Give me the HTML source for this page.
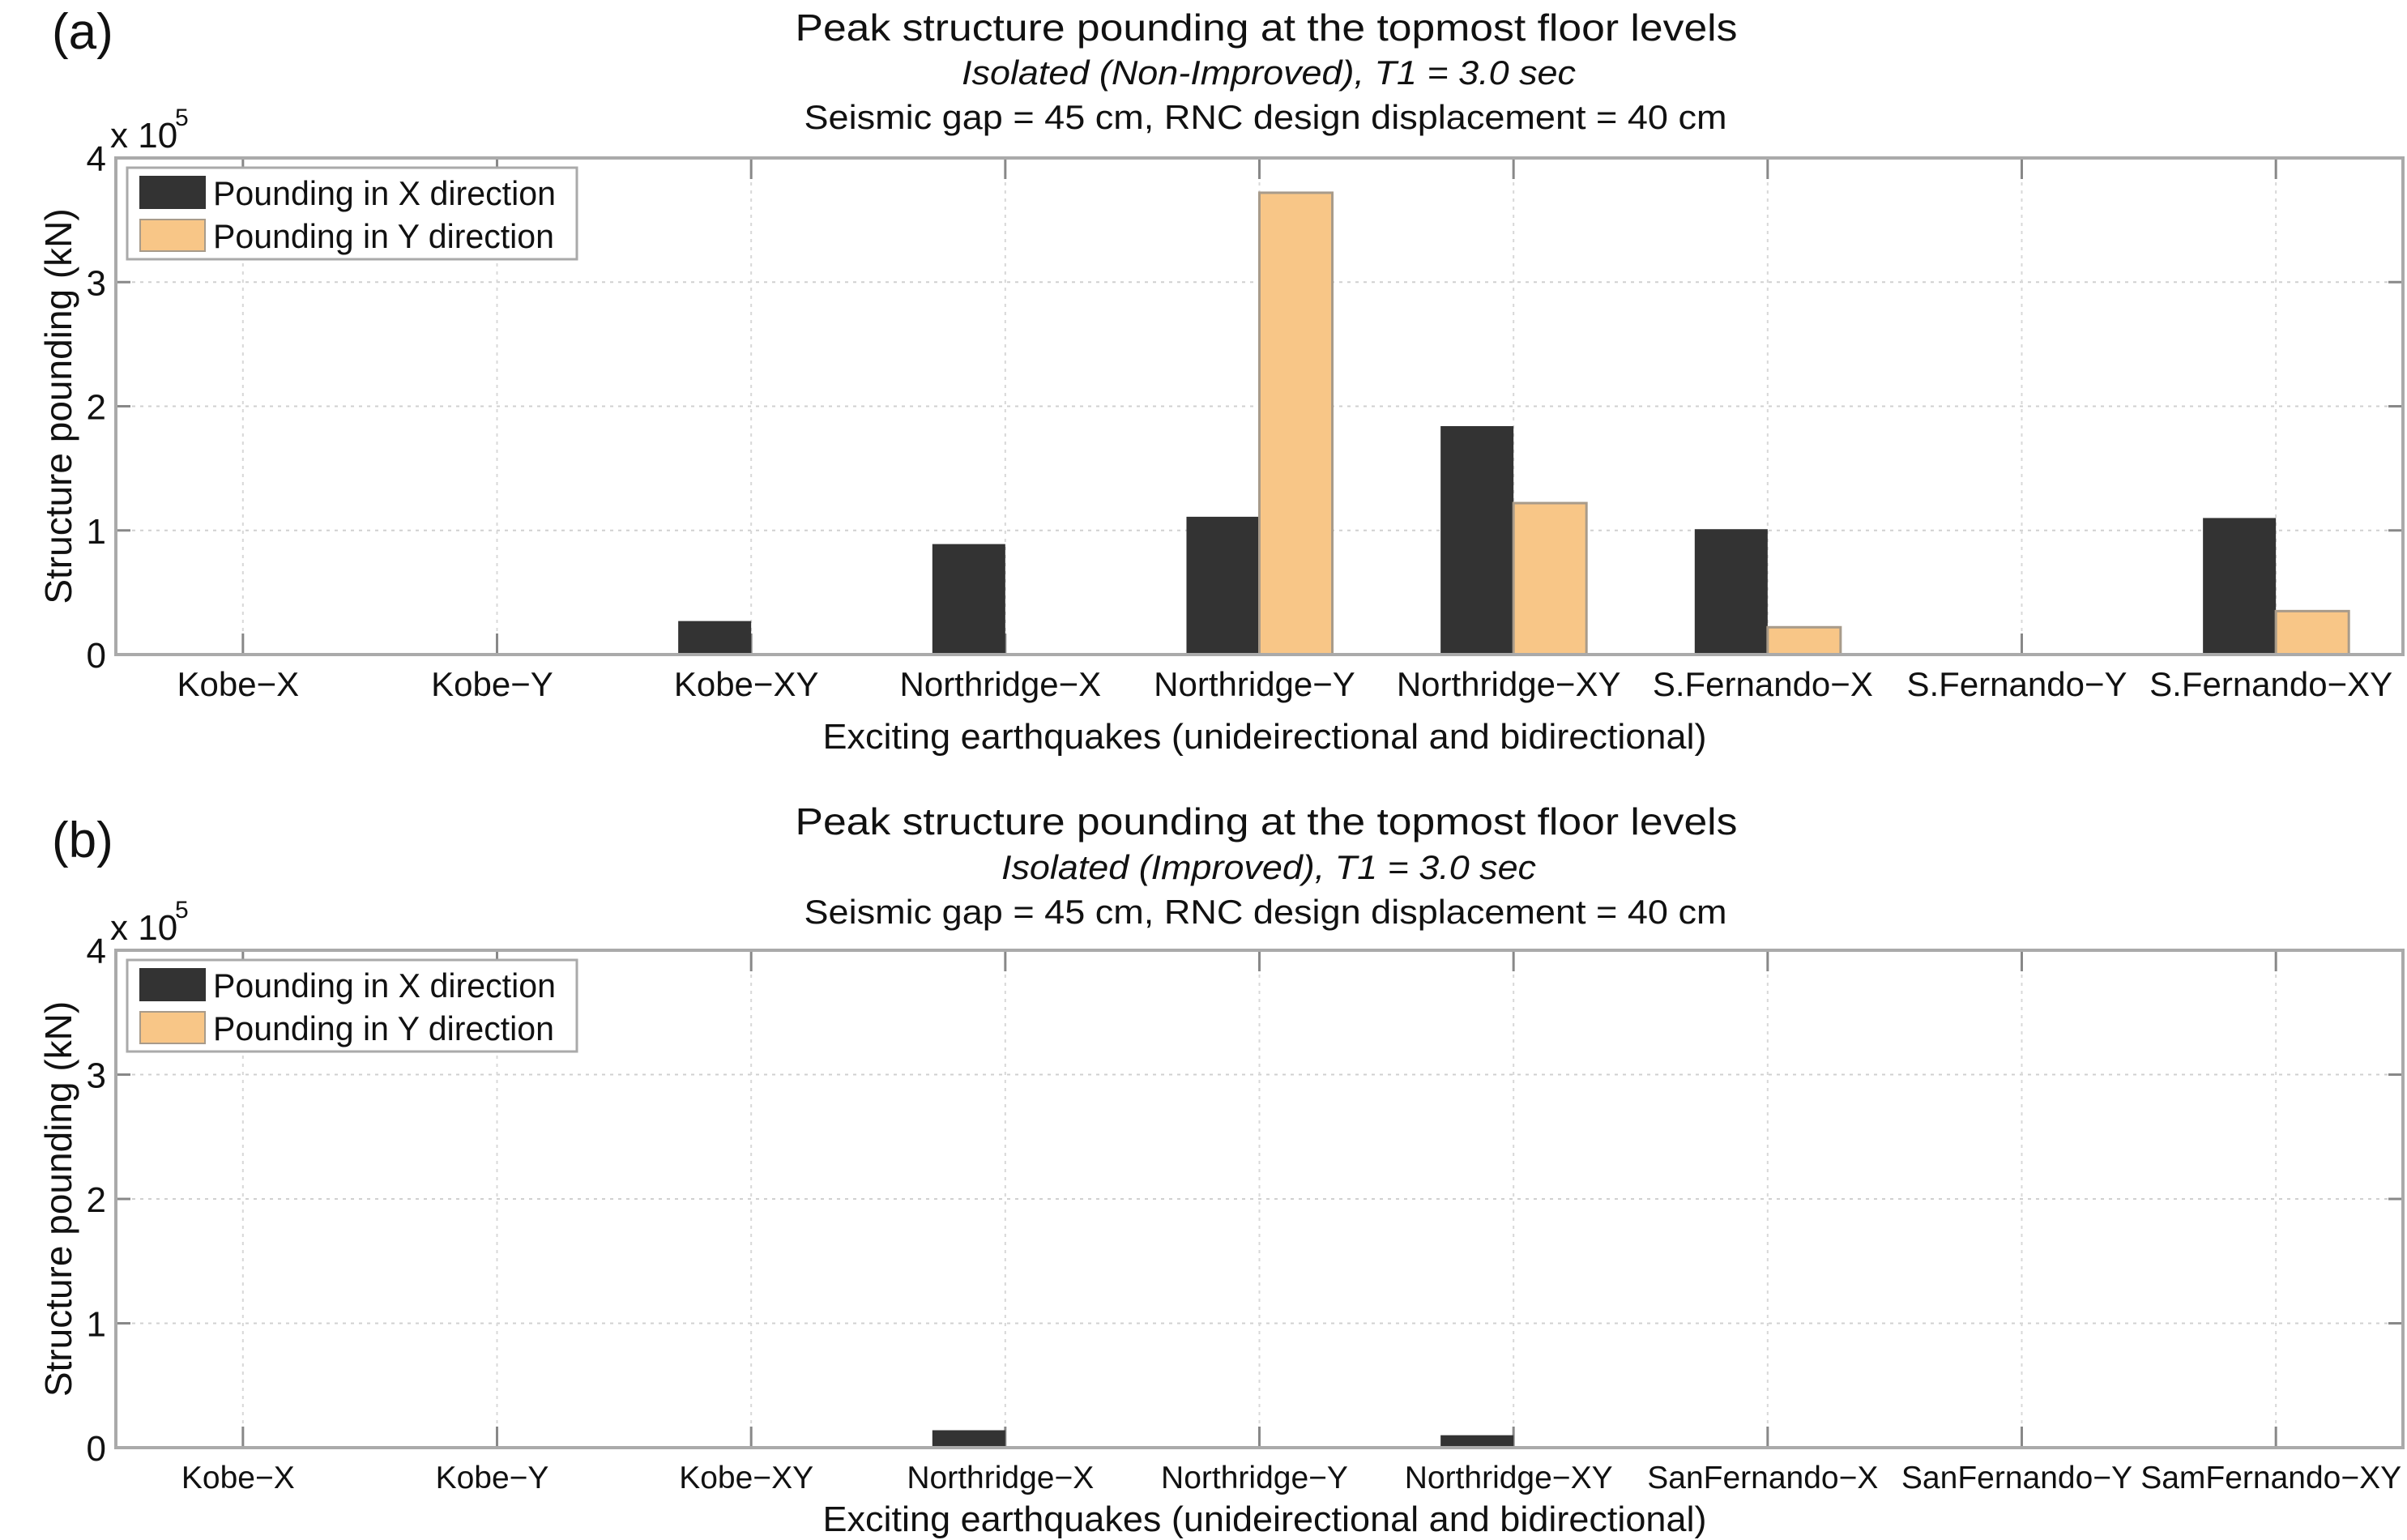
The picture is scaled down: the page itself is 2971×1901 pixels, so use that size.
<!DOCTYPE html>
<html><head><meta charset="utf-8"><style>
html,body{margin:0;padding:0;background:#fff;}
svg{display:block;font-family:"Liberation Sans",Arial,sans-serif;}
</style></head><body>
<svg id="fig" width="2971" height="1901" viewBox="0 0 2971 1901" xmlns="http://www.w3.org/2000/svg"></svg>
<script>
const categoriesA = ["Kobe\u2212X","Kobe\u2212Y","Kobe\u2212XY","Northridge\u2212X","Northridge\u2212Y","Northridge\u2212XY","S.Fernando\u2212X","S.Fernando\u2212Y","S.Fernando\u2212XY"];
const categoriesB = ["Kobe\u2212X","Kobe\u2212Y","Kobe\u2212XY","Northridge\u2212X","Northridge\u2212Y","Northridge\u2212XY","SanFernando\u2212X","SanFernando\u2212Y","SamFernando\u2212XY"];
const seriesXA = [0,0,0.27,0.89,1.11,1.84,1.01,0,1.10];
const seriesYA = [0,0,0,0,3.72,1.22,0.22,0,0.35];
const seriesXB = [0,0,0,0.14,0,0.10,0,0,0];
const seriesYB = [0,0,0,0,0,0,0,0,0];
const yTicks = [0,1,2,3,4];
const legendLabels = ["Pounding in X direction","Pounding in Y direction"];

const NS="http://www.w3.org/2000/svg";
const svg=document.getElementById('fig');
function mk(tag,attrs,parent,text){const e=document.createElementNS(NS,tag);for(const k in attrs)e.setAttribute(k,attrs[k]);if(text!==undefined)e.textContent=text;(parent||svg).appendChild(e);return e;}

function panel(cfg){
  const g=mk('g',{});
  
  
  const L=143,R=2966,T=cfg.top,B=cfg.bottom;
  const n=cfg.cats.length;
  const band=(R-L)/n;
  const xC=i=>L+(i+0.5)*band;
  const yS=v=>B-(v/4)*(B-T);
  const lab=mk('text',{x:64,y:cfg.labY,'font-size':62,fill:'#111'},g,cfg.letter);
  
  
  const t1=mk('text',{x:1563,y:cfg.tY[0],'font-size':46,'text-anchor':'middle',fill:'#111',textLength:1163,lengthAdjust:'spacingAndGlyphs'},g,'Peak structure pounding at the topmost floor levels');
  
  
  const t2=mk('text',{x:1566,y:cfg.tY[1],'font-size':42,'font-style':'italic','text-anchor':'middle',fill:'#111',textLength:cfg.subW,lengthAdjust:'spacingAndGlyphs'},g,cfg.sub);
  
  
  const t3=mk('text',{x:1562,y:cfg.tY[2],'font-size':42,'text-anchor':'middle',fill:'#111',textLength:1139,lengthAdjust:'spacingAndGlyphs'},g,'Seismic gap = 45 cm, RNC design displacement = 40 cm');
  
  
  yTicks.forEach(v=>{
    if(v>0&&v<4){const gl=mk('line',{x1:L,x2:R,y1:yS(v),y2:yS(v),stroke:'#d0d0d0','stroke-width':2,'stroke-dasharray':'4 6'},g);
    
    }
    const tl=mk('line',{x1:L,x2:L+18,y1:yS(v),y2:yS(v),stroke:'#888','stroke-width':3},g);
    
    
    const tr=mk('line',{x1:R-18,x2:R,y1:yS(v),y2:yS(v),stroke:'#888','stroke-width':3},g);
    
    
    const tt=mk('text',{x:131,y:yS(v)+16,'font-size':44,'text-anchor':'end',fill:'#111'},g,String(v));
    
    
  });
  cfg.cats.forEach((c,i)=>{
    const x=xC(i);
    const gl=mk('line',{x1:x,x2:x,y1:T,y2:B,stroke:'#d8d8d8','stroke-width':2,'stroke-dasharray':'4 6'},g);
    
    
    const tk=mk('line',{x1:x,x2:x,y1:B-26,y2:B,stroke:'#888','stroke-width':3},g);
    
    
    const tk2=mk('line',{x1:x,x2:x,y1:T,y2:T+26,stroke:'#888','stroke-width':3},g);
    
    
    const tl=mk('text',{x:x-6,y:cfg.xlY,'font-size':cfg.xlF,'text-anchor':'middle',fill:'#111'},g,c);
    
    
  });
  const bw=band*0.287;
  cfg.sx.forEach((v,i)=>{
    if(v<=0)return;
    const r=mk('rect',{x:xC(i)-bw,y:yS(v),width:bw,height:B-yS(v),fill:'#333333'},g);
    
    
  });
  cfg.sy.forEach((v,i)=>{
    if(v<=0)return;
    const r=mk('rect',{x:xC(i),y:yS(v),width:bw,height:B-yS(v),fill:'#f8c687',stroke:'#a89b8a','stroke-width':3},g);
    
    
  });
  const box=mk('rect',{x:L,y:T,width:R-L,height:B-T,fill:'none',stroke:'#aaa','stroke-width':4},g);
  
  
  const ex=mk('text',{x:136,y:T-13,'font-size':44,fill:'#111'},g,'x 10');
  
  
  const ex5=mk('text',{x:216,y:T-40,'font-size':30,fill:'#111'},g,'5');
  
  
  const yc=(T+B)/2;
  const yt=mk('text',{x:0,y:0,'font-size':46,'text-anchor':'middle',fill:'#111',transform:`translate(88,${yc}) rotate(-90)`},g,'Structure pounding (kN)');
  
  
  const xt=mk('text',{x:1561,y:cfg.xtY,'font-size':44,'text-anchor':'middle',fill:'#111',textLength:1091,lengthAdjust:'spacingAndGlyphs'},g,'Exciting earthquakes (unideirectional and bidirectional)');
  
  
  const lg=mk('g',{},g);
  
  
  const lt=T+12;
  mk('rect',{x:157,y:lt,width:555,height:113,fill:'#fff',stroke:'#aaa','stroke-width':3},lg);
  const cols=['#333333','#f8c687'];
  legendLabels.forEach((s,k)=>{
    const yy=lt+11+k*53;
    const sw=mk('rect',{x:173,y:yy,width:80,height:39,fill:cols[k],stroke:k?'#a89b8a':'#333','stroke-width':2},lg);
    
    
    const tx=mk('text',{x:263,y:yy+35,'font-size':42,fill:'#111',textLength:k?421:423,lengthAdjust:'spacingAndGlyphs'},lg,s);
    
    
  });
}
panel({name:'panel-a',letter:'(a)',labY:60,top:195,bottom:808,cats:categoriesA,sx:seriesXA,sy:seriesYA,
  tY:[50,104,159],sub:'Isolated (Non-Improved), T1 = 3.0 sec',subW:758,xlY:859,xlF:42,xtY:924});
panel({name:'panel-b',letter:'(b)',labY:1058,top:1173,bottom:1787,cats:categoriesB,sx:seriesXB,sy:seriesYB,
  tY:[1030,1085,1140],sub:'Isolated (Improved), T1 = 3.0 sec',subW:660,xlY:1837,xlF:39,xtY:1890});
</script>
</body></html>
